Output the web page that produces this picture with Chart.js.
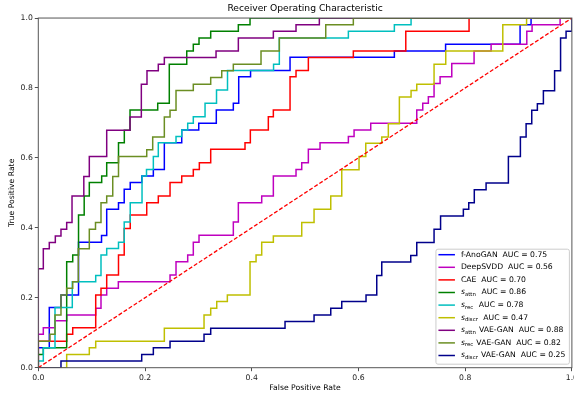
<!DOCTYPE html>
<html>
<head>
<meta charset="utf-8">
<script src="https://cdn.jsdelivr.net/npm/chart.js@4/dist/chart.umd.min.js"></script>
<style>
html, body { margin: 0; padding: 0; background: #fff; overflow: hidden; }
#wrap { width: 574px; height: 396px; overflow: hidden; }
</style>
</head>
<body>
<div id="wrap"><canvas id="roc" width="580" height="396"></canvas></div>
<script>
// ROC curves: each point ends one step (up first, then right)
const fAnoGanFpr = [0, 0.0206, 0.0425, 0.0754, 0.1185, 0.1282, 0.1503, 0.1610, 0.1723, 0.1940, 0.2156, 0.2362, 0.2688, 0.3007, 0.3336, 0.3655, 0.3756, 0.3978, 0.4718, 0.6673, 0.7633, 0.9029, 0.9235, 1.0];
const fAnoGanTpr = [0, 0.057, 0.172, 0.208, 0.359, 0.378, 0.453, 0.472, 0.510, 0.530, 0.548, 0.567, 0.643, 0.680, 0.699, 0.737, 0.756, 0.832, 0.850, 0.888, 0.906, 0.925, 0.981, 1.0];

const deepSvddFpr = [0, 0.0094, 0.0313, 0.0532, 0.1076, 0.1175, 0.1282, 0.1500, 0.2469, 0.2581, 0.2800, 0.2905, 0.3012, 0.3655, 0.3749, 0.4187, 0.4405, 0.4830, 0.4937, 0.5061, 0.5280, 0.5811, 0.5918, 0.6230, 0.7093, 0.7205, 0.7310, 0.7417, 0.7530, 0.7749, 0.8167, 0.8486, 0.9155, 0.9254, 0.9779, 1.0];
const deepSvddTpr = [0, 0.096, 0.114, 0.134, 0.151, 0.170, 0.208, 0.227, 0.246, 0.265, 0.303, 0.322, 0.359, 0.379, 0.417, 0.472, 0.491, 0.548, 0.567, 0.586, 0.625, 0.643, 0.661, 0.680, 0.699, 0.737, 0.756, 0.775, 0.813, 0.832, 0.870, 0.906, 0.925, 0.962, 0.981, 1.0];

const caeFpr = [0, 0.0532, 0.0645, 0.1076, 0.1175, 0.1282, 0.1503, 0.1610, 0.1723, 0.2032, 0.2249, 0.2469, 0.2688, 0.2905, 0.3018, 0.3231, 0.3874, 0.3974, 0.4311, 0.4405, 0.4718, 0.4830, 0.5061, 0.5904, 0.6887, 0.8073, 1.0];
const caeTpr = [0, 0.076, 0.096, 0.114, 0.208, 0.227, 0.265, 0.322, 0.398, 0.437, 0.472, 0.491, 0.530, 0.548, 0.567, 0.586, 0.625, 0.643, 0.680, 0.718, 0.737, 0.832, 0.850, 0.887, 0.906, 0.962, 1.0];

const attnFpr = [0, 0.0094, 0.0532, 0.0645, 0.0754, 0.0860, 0.0956, 0.1188, 0.1282, 0.1503, 0.1612, 0.1719, 0.2238, 0.2455, 0.2782, 0.2905, 0.3012, 0.3231, 0.3749, 0.3968, 1.0];
const attnTpr = [0, 0.038, 0.057, 0.303, 0.322, 0.437, 0.491, 0.530, 0.548, 0.586, 0.643, 0.679, 0.737, 0.756, 0.868, 0.906, 0.925, 0.943, 0.962, 0.981, 1.0];

const recFpr = [0, 0.0094, 0.0313, 0.0637, 0.1076, 0.1175, 0.1282, 0.1503, 0.1610, 0.1723, 0.1944, 0.2028, 0.2156, 0.2249, 0.2581, 0.2688, 0.2800, 0.2905, 0.3125, 0.3340, 0.3546, 0.4409, 0.4517, 0.5811, 0.6673, 0.6986, 1.0];
const recTpr = [0, 0.019, 0.057, 0.172, 0.246, 0.264, 0.322, 0.341, 0.359, 0.417, 0.472, 0.548, 0.567, 0.604, 0.643, 0.661, 0.680, 0.699, 0.718, 0.756, 0.794, 0.850, 0.868, 0.943, 0.962, 0.981, 1.0];

const discrFpr = [0, 0.0532, 0.0956, 0.1076, 0.2362, 0.3106, 0.3231, 0.3344, 0.3543, 0.3968, 0.4081, 0.4187, 0.4405, 0.4937, 0.5168, 0.5481, 0.5687, 0.6011, 0.6137, 0.6437, 0.6560, 0.6767, 0.6986, 0.7093, 0.7417, 0.7636, 0.8705, 0.9151, 1.0];
const discrTpr = [0, 0, 0.038, 0.057, 0.076, 0.113, 0.151, 0.170, 0.189, 0.208, 0.303, 0.322, 0.359, 0.377, 0.415, 0.453, 0.491, 0.566, 0.604, 0.642, 0.660, 0.698, 0.774, 0.793, 0.811, 0.868, 0.906, 0.981, 1.0];

const attnVaeFpr = [0, 0.0094, 0.0206, 0.0319, 0.0425, 0.0532, 0.0632, 0.0853, 0.0956, 0.1282, 0.1719, 0.1931, 0.2037, 0.2249, 0.2362, 0.3331, 0.3749, 0.4405, 0.4830, 0.5267, 1.0];
const attnVaeTpr = [0, 0.283, 0.340, 0.358, 0.377, 0.396, 0.415, 0.491, 0.547, 0.604, 0.679, 0.717, 0.811, 0.849, 0.868, 0.887, 0.906, 0.943, 0.962, 0.981, 1.0];

const recVaeFpr = [0, 0.0219, 0.0313, 0.0425, 0.0532, 0.0645, 0.0750, 0.0956, 0.1072, 0.1175, 0.1282, 0.1395, 0.1503, 0.2032, 0.2144, 0.2362, 0.2469, 0.2581, 0.2905, 0.3231, 0.3438, 0.3655, 0.4174, 0.4517, 0.5387, 0.5904, 1.0];
const recVaeTpr = [0, 0.076, 0.096, 0.151, 0.208, 0.227, 0.246, 0.340, 0.396, 0.415, 0.472, 0.491, 0.547, 0.604, 0.623, 0.660, 0.717, 0.736, 0.793, 0.811, 0.830, 0.849, 0.868, 0.906, 0.943, 0.981, 1.0];

const discrVaeFpr = [0, 0.0425, 0.1938, 0.2156, 0.2469, 0.3106, 0.3231, 0.4624, 0.5168, 0.5481, 0.5687, 0.6142, 0.6343, 0.6437, 0.6980, 0.7093, 0.7417, 0.7539, 0.7966, 0.8067, 0.8171, 0.8392, 0.8810, 0.9035, 0.9142, 0.9248, 0.9353, 0.9466, 0.9676, 0.9788, 0.9891, 1.0, 1.0];
const discrVaeTpr = [0, 0, 0.019, 0.038, 0.057, 0.076, 0.096, 0.113, 0.132, 0.151, 0.170, 0.189, 0.208, 0.264, 0.302, 0.321, 0.358, 0.396, 0.434, 0.453, 0.472, 0.509, 0.528, 0.604, 0.660, 0.698, 0.736, 0.755, 0.792, 0.849, 0.943, 0.962, 1.0];

const names = ['f-AnoGAN', 'DeepSVDD', 'CAE', 's_attn', 's_rec', 's_discr', 's_attn VAE-GAN', 's_rec VAE-GAN', 's_discr VAE-GAN'];
const aucs = ['0.75', '0.56', '0.70', '0.86', '0.78', '0.47', '0.88', '0.82', '0.25'];
const colors = ['#0000ff', '#bf00bf', '#ff0000', '#008000', '#00bfbf', '#bfbf00', '#800080', '#6b8e23', '#00008b'];
const fprs = [fAnoGanFpr, deepSvddFpr, caeFpr, attnFpr, recFpr, discrFpr, attnVaeFpr, recVaeFpr, discrVaeFpr];
const tprs = [fAnoGanTpr, deepSvddTpr, caeTpr, attnTpr, recTpr, discrTpr, attnVaeTpr, recVaeTpr, discrVaeTpr];

const chanceX = [0, 1];
const chanceY = [0, 1];
const xTicks = [0, 0.2, 0.4, 0.6, 0.8, 1.0];
const yTicks = [0, 0.2, 0.4, 0.6, 0.8, 1.0];

const FONT = '"DejaVu Sans", sans-serif';

const datasets = names.map((name, i) => ({
    label: name,
    data: fprs[i].map((x, k) => ({ x: x, y: tprs[i][k] })),
    borderColor: colors[i],
    borderWidth: 1.5,
    pointRadius: 0,
    stepped: 'after',
    fill: false,
    order: names.length + 1 - i,
}));

// chance line, drawn last
datasets.push({
    label: 'chance',
    data: chanceX.map((x, k) => ({ x: x, y: chanceY[k] })),
    borderColor: '#ff0000',
    borderWidth: 1.3,
    borderDash: [4, 2],
    pointRadius: 0,
    fill: false,
    order: 0,
});

// top/right spines like matplotlib
const framePlugin = {
    id: 'frame',
    afterDatasetsDraw(chart) {
        const { ctx, chartArea: a } = chart;
        ctx.save();
        ctx.strokeStyle = '#555';
        ctx.lineWidth = 1;
        ctx.strokeRect(a.left, a.top, a.right - a.left, a.bottom - a.top);
        ctx.restore();
    }
};

// legend with italic s and subscripts
function labelParts(name, auc) {
    const m = name.match(/^s_(\w+)(.*)$/);
    if (m) {
        return [{ t: 's', f: 'italic' }, { t: m[1], f: 'sub' }, { t: m[2] + '  AUC = ' + auc, f: 'normal' }];
    }
    return [{ t: name + '  AUC = ' + auc, f: 'normal' }];
}

const legendPlugin = {
    id: 'rocLegend',
    afterDraw(chart) {
        const { ctx, chartArea: a } = chart;
        const fs = 7.7, subFs = 5.4, rowH = 12.6;
        const fontOf = f => f === 'italic' ? `italic ${fs}px ${FONT}` : f === 'sub' ? `${subFs}px ${FONT}` : `${fs}px ${FONT}`;
        ctx.save();
        const widths = names.map((n, i) => labelParts(n, aucs[i]).reduce((w, p) => {
            ctx.font = fontOf(p.f);
            return w + ctx.measureText(p.t).width + (p.f === 'sub' ? 0.6 : 0);
        }, 0));
        const textW = Math.max(...widths);
        const boxR = a.right - 2.5, boxB = a.bottom - 3.5;
        const boxW = textW + 29, boxH = 115;
        const boxL = boxR - boxW, boxT = boxB - boxH;

        ctx.fillStyle = 'rgba(255,255,255,0.8)';
        ctx.strokeStyle = '#cccccc';
        ctx.lineWidth = 1;
        ctx.beginPath();
        ctx.roundRect(boxL, boxT, boxW, boxH, 2);
        ctx.fill();
        ctx.stroke();

        names.forEach((n, i) => {
            const cy = boxT + 5.5 + i * rowH;
            ctx.strokeStyle = colors[i];
            ctx.lineWidth = 1.5;
            ctx.beginPath();
            ctx.moveTo(boxL + 2.5, cy);
            ctx.lineTo(boxL + 19, cy);
            ctx.stroke();
            let x = boxL + 25;
            ctx.fillStyle = '#000';
            ctx.textBaseline = 'middle';
            labelParts(n, aucs[i]).forEach(p => {
                ctx.font = fontOf(p.f);
                ctx.fillText(p.t, x, p.f === 'sub' ? cy + 2 : cy);
                x += ctx.measureText(p.t).width + (p.f === 'sub' ? 0.6 : 0);
            });
        });
        ctx.restore();
    }
};

const tickFont = { family: FONT, size: 7.7 };

new Chart(document.getElementById('roc'), {
    type: 'line',
    data: { datasets: datasets },
    options: {
        responsive: false,
        animation: false,
        devicePixelRatio: 1,
        layout: { autoPadding: false, padding: { left: 0, right: 2.2, top: 0, bottom: 0 } },
        plugins: {
            legend: { display: false },
            tooltip: { enabled: false },
            title: {
                display: true,
                text: 'Receiver Operating Characteristic',
                fullSize: false,
                color: '#000',
                font: { family: FONT, size: 9.2, weight: 'normal' },
                padding: { top: 3, bottom: 4 },
            },
        },
        scales: {
            x: {
                type: 'linear',
                min: 0,
                max: 1,
                afterFit: s => { s.height = 28.3; },
                afterBuildTicks: s => { s.ticks = xTicks.map(v => ({ value: v })); },
                ticks: { callback: v => v.toFixed(1), font: tickFont, color: '#222', padding: 2, maxRotation: 0, autoSkip: false },
                grid: { drawOnChartArea: false, drawTicks: true, tickLength: 3.5, color: '#222', lineWidth: 0.8 },
                border: { display: false },
                title: { display: true, text: 'False Positive Rate', color: '#000', font: tickFont, padding: { top: 0, bottom: 3.1 } },
            },
            y: {
                type: 'linear',
                min: 0,
                max: 1,
                afterFit: s => { s.width = 38.3; },
                afterBuildTicks: s => { s.ticks = yTicks.map(v => ({ value: v })); },
                ticks: { callback: v => v.toFixed(1), font: tickFont, color: '#222', padding: 2, autoSkip: false },
                grid: { drawOnChartArea: false, drawTicks: true, tickLength: 3.5, color: '#222', lineWidth: 0.8 },
                border: { display: false },
                title: { display: true, text: 'True Positive Rate', color: '#000', font: tickFont, padding: { top: 7.1, bottom: 0 } },
            },
        },
    },
    plugins: [framePlugin, legendPlugin],
});
</script>
</body>
</html>
